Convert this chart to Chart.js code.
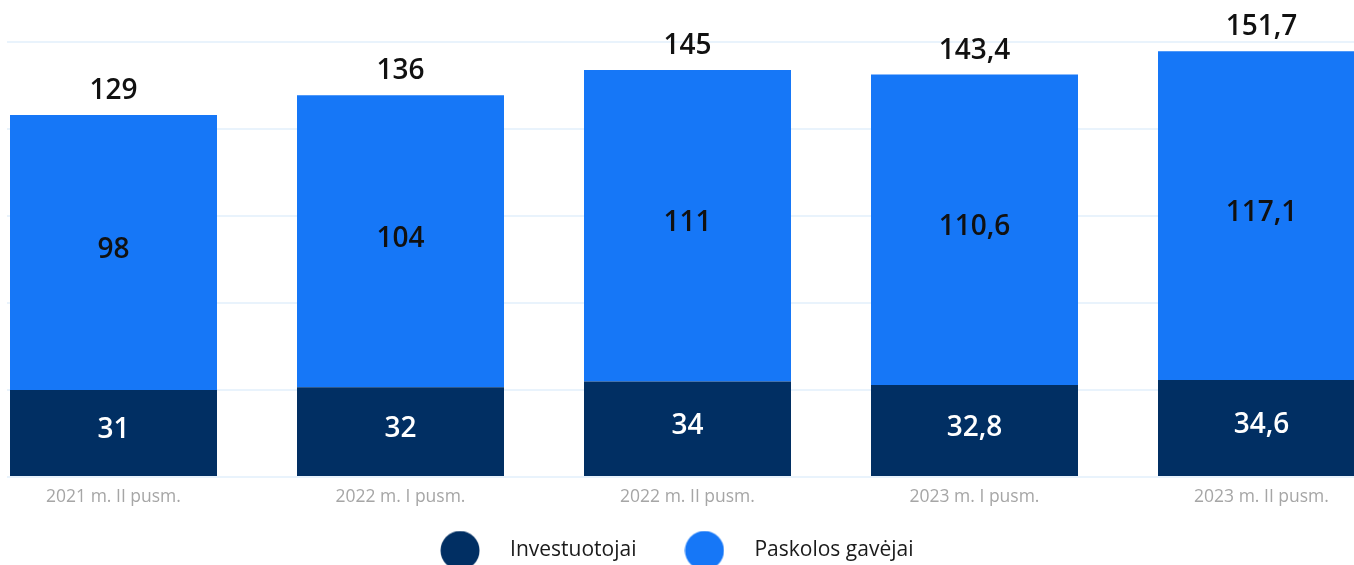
<!DOCTYPE html>
<html>
<head>
<meta charset="utf-8">
<script src="https://cdn.jsdelivr.net/npm/chart.js@4"></script>
<style>
  html, body { margin: 0; padding: 0; background: #fff; overflow: hidden; }
  #clip { position: absolute; left: 7px; top: 0; width: 1347px; height: 565px; overflow: hidden; }
  #wrap { position: absolute; left: -78px; top: 0; width: 1476px; height: 600px; }
</style>
</head>
<body>
<div id="clip"><div id="wrap"><canvas id="grafikas"></canvas></div></div>
<script>
// duomenys
const laikotarpiai = ['2021 m. II pusm.', '2022 m. I pusm.', '2022 m. II pusm.', '2023 m. I pusm.', '2023 m. II pusm.'];
const investuotojai = [31, 32, 34, 32.8, 34.6];
const paskolosGavejai = [98, 104, 111, 110.6, 117.1];
const yTickai = [0, 31, 62, 93, 124, 155];

const spalvaTamsi = '#012f63';
const spalvaSviesi = '#1677f7';
const srift = '"Open Sans", "Noto Sans", sans-serif';

function formatuoti(v) {
    return String(Math.round(v * 10) / 10).replace('.', ',');
}

// legendos apskritimai
function taskas(spalva) {
    const c = document.createElement('canvas');
    c.width = 40; c.height = 40;
    const g = c.getContext('2d');
    g.fillStyle = spalva;
    g.beginPath();
    g.arc(20, 20, 19.5, 0, Math.PI * 2);
    g.fill();
    return c;
}
const taskai = [taskas(spalvaTamsi), taskas(spalvaSviesi)];

// reiksmiu uzrasai ant stulpeliu
const uzrasai = {
    id: 'uzrasai',
    afterDatasetsDraw(chart) {
        const ctx = chart.ctx;
        ctx.save();
        ctx.textAlign = 'center';
        ctx.textBaseline = 'middle';
        ctx.font = '600 28px ' + srift;
        chart.data.datasets.forEach((ds, i) => {
            const meta = chart.getDatasetMeta(i);
            meta.data.forEach((el, j) => {
                ctx.fillStyle = i === 0 ? '#ffffff' : '#111111';
                ctx.fillText(formatuoti(ds.data[j]), el.x, (el.y + el.base) / 2 - 2.5);
            });
        });
        const virsus = chart.getDatasetMeta(chart.data.datasets.length - 1);
        virsus.data.forEach((el, j) => {
            const suma = investuotojai[j] + paskolosGavejai[j];
            ctx.fillStyle = '#111111';
            ctx.fillText(formatuoti(suma), el.x, el.y - 24);
        });
        ctx.restore();
    }
};

const ctx = document.getElementById('grafikas').getContext('2d');
new Chart(ctx, {
    type: 'bar',
    data: {
        labels: laikotarpiai,
        datasets: [{
            label: 'Investuotojai',
            data: investuotojai,
            backgroundColor: spalvaTamsi
        }, {
            label: 'Paskolos gavėjai',
            data: paskolosGavejai,
            backgroundColor: spalvaSviesi
        }]
    },
    options: {
        responsive: true,
        maintainAspectRatio: false,
        animation: false,
        categoryPercentage: 1,
        barPercentage: 207 / 287,
        layout: { padding: { top: 42, left: 0, right: 0, bottom: 29 } },
        scales: {
            x: {
                stacked: true,
                grid: { display: false },
                border: { display: false },
                afterFit: s => { s.height += 1.5; },
                ticks: { color: '#a6a6a6', font: { family: srift, size: 17.5 }, padding: 2, maxRotation: 0 }
            },
            y: {
                stacked: true,
                min: yTickai[0],
                max: yTickai[yTickai.length - 1],
                afterBuildTicks: s => { s.ticks = yTickai.map(v => ({ value: v })); },
                afterFit: s => { s.width = 41; },
                ticks: { display: false },
                border: { display: false },
                grid: { color: '#e9f3fc', lineWidth: 2, drawTicks: false }
            }
        },
        plugins: {
            tooltip: { enabled: false },
            legend: {
                position: 'bottom',
                labels: {
                    usePointStyle: true,
                    pointStyleWidth: 79,
                    padding: 28.5,
                    color: '#1a1a1a',
                    font: { family: srift, size: 21 },
                    generateLabels: chart => Chart.defaults.plugins.legend.labels.generateLabels(chart)
                        .map((it, i) => ({ ...it, pointStyle: taskai[i] }))
                }
            }
        }
    },
    plugins: [uzrasai]
});
</script>
</body>
</html>
